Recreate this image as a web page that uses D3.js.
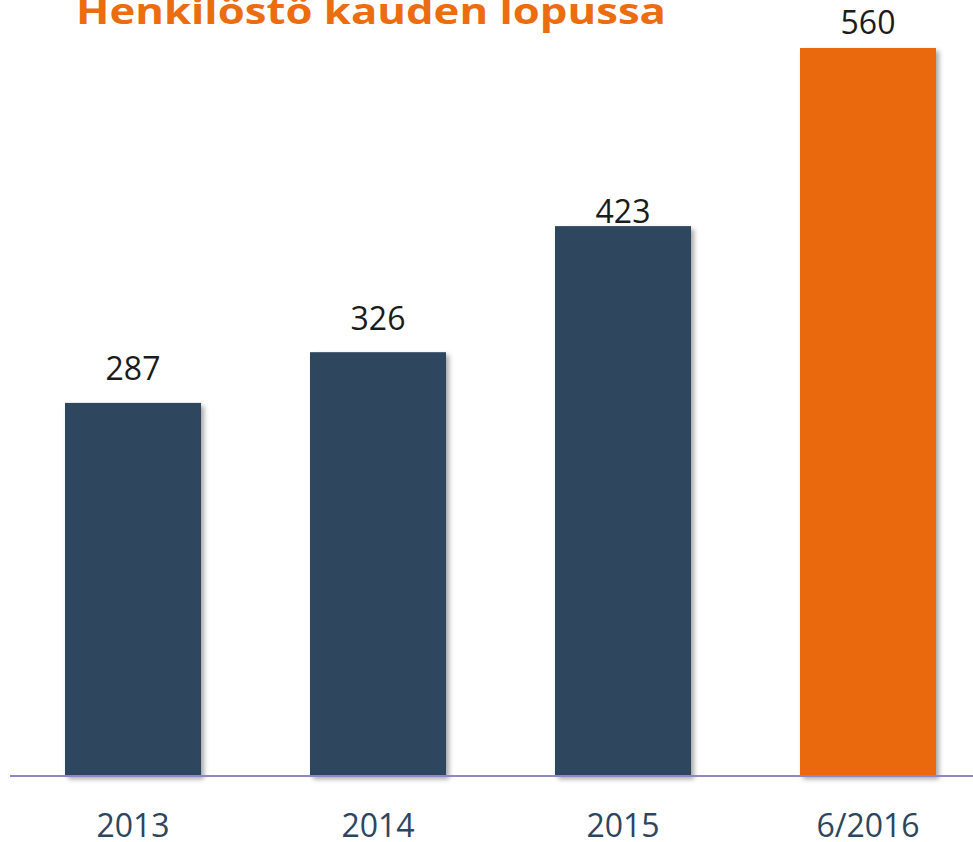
<!DOCTYPE html>
<html>
<head>
<meta charset="utf-8">
<script src="https://cdn.jsdelivr.net/npm/d3@7"></script>
<style>
  html, body { margin: 0; padding: 0; background: #fff; overflow: hidden; }
  svg { display: block; }
</style>
</head>
<body>
<div id="main"></div>
<script>
// chart data
var title = "Henkilöstö kauden lopussa";
var categories = ["2013", "2014", "2015", "6/2016"];
var values = [287, 326, 423, 560];
var barColors = ["#2d465e", "#2d465e", "#2d465e", "#ea690c"];

var ctx = {
    w: 973,
    h: 842,
    left: 10.5,
    right: 990.5,
    base: 776,
    top: 48
};
// distance between bar top and value label baseline (as laid out in the slide)
var labelLift = [23, 22, 3, 14];

var svg = d3.select("#main").append("svg")
    .attr("width", ctx.w)
    .attr("height", ctx.h);

var defs = svg.append("defs");
var f = defs.append("filter").attr("id", "shadow")
    .attr("x", "-10%").attr("y", "-10%").attr("width", "130%").attr("height", "130%");
f.append("feDropShadow")
    .attr("dx", 3).attr("dy", 3)
    .attr("stdDeviation", 2.5)
    .attr("flood-color", "#000")
    .attr("flood-opacity", 0.35);

var x = d3.scaleBand()
    .domain(categories)
    .range([ctx.left, ctx.right])
    .paddingInner(0.445)
    .paddingOuter(0.2225);

var y = d3.scaleLinear()
    .domain([0, 560])
    .range([ctx.base, ctx.top]);

// bars
svg.selectAll("rect.bar")
    .data(values)
    .enter()
    .append("rect")
    .attr("class", "bar")
    .attr("x", function (d, i) { return x(categories[i]); })
    .attr("y", function (d) { return y(d); })
    .attr("width", x.bandwidth())
    .attr("height", function (d) { return y(0) - y(d); })
    .attr("fill", function (d, i) { return barColors[i]; })
    .attr("filter", "url(#shadow)");

// baseline
svg.append("line")
    .attr("x1", 10)
    .attr("x2", ctx.w)
    .attr("y1", y(0))
    .attr("y2", y(0))
    .attr("stroke", "#8d87c8")
    .attr("stroke-width", 2);

// value labels
svg.selectAll("text.val")
    .data(values)
    .enter()
    .append("text")
    .attr("class", "val")
    .attr("x", function (d, i) { return x(categories[i]) + x.bandwidth() / 2; })
    .attr("y", function (d, i) { return y(d) - labelLift[i]; })
    .attr("text-anchor", "middle")
    .style("font-family", "'Open Sans', sans-serif")
    .style("font-size", "32px")
    .style("fill", "#1b1b1b")
    .text(function (d) { return d; });

// category labels
var xAxis = svg.append("g")
    .attr("transform", "translate(0," + y(0) + ")")
    .call(d3.axisBottom(x).tickSize(0).tickPadding(0));
xAxis.select(".domain").remove();
xAxis.selectAll("text")
    .attr("dy", 0)
    .attr("y", 61)
    .style("font-family", "'Open Sans', sans-serif")
    .style("font-size", "32px")
    .style("fill", "#2d4660");

// title (clipped by top edge like the original slide)
svg.append("text")
    .attr("x", 76)
    .attr("y", 24)
    .attr("textLength", 590)
    .attr("lengthAdjust", "spacingAndGlyphs")
    .style("font-family", "'Open Sans', sans-serif")
    .style("font-weight", "bold")
    .style("font-size", "36px")
    .style("fill", "#ec6c10")
    .text(title);
</script>
</body>
</html>
